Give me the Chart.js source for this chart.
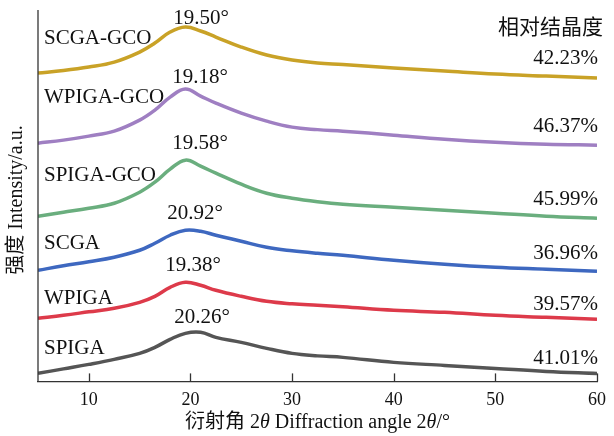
<!DOCTYPE html>
<html>
<head>
<meta charset="utf-8">
<script src="https://cdn.jsdelivr.net/npm/chart.js@4"></script>
<style>
  html, body { margin: 0; padding: 0; background: #fff; }
  #wrap { width: 614px; height: 436px; position: relative; }
</style>
</head>
<body>
<div id="wrap"><canvas id="xrdChart"></canvas></div>
<script>
// 2theta positions (deg) where the curves were read
var angles = [5, 7.5, 10, 12.5, 15, 16.5, 18, 19.5, 21, 22.5, 25, 27.5, 30, 32.5, 35, 40, 45, 50, 55, 60];

// intensity (a.u., stacked with offsets)
var scgaGco  = [308, 310.5, 314, 319, 329, 338, 349, 354, 350, 344, 334, 326, 321, 318, 316.5, 313, 310, 307, 305, 303];
var wpigaGco = [238, 241, 245, 250, 261, 271, 284, 292, 285, 278, 268, 260, 254, 251.5, 250, 246, 242, 239, 237, 236];
var spigaGco = [165, 169, 173, 178, 189, 199, 212, 221, 215, 208, 197, 188, 183, 179.5, 177, 174, 171, 168, 165, 163];
var scga     = [111, 115.5, 119.5, 124, 131, 138, 146, 151, 150, 146, 140, 134, 130.5, 128, 126, 121, 117, 114, 112, 110];
var wpiga    = [63, 66, 69.5, 73, 79, 85, 94, 99, 96, 91, 85, 80, 77.5, 76, 74.5, 71, 69, 66, 64, 62];
var spiga    = [8, 12.5, 17, 22, 28, 34, 42, 48, 49, 44, 39, 33, 28, 25.5, 24, 19, 16, 13, 10, 8];

var sampleNames = ['SCGA-GCO', 'WPIGA-GCO', 'SPIGA-GCO', 'SCGA', 'WPIGA', 'SPIGA'];
var peakLabels = ['19.50°', '19.18°', '19.58°', '20.92°', '19.38°', '20.26°'];
var crystallinity = ['42.23%', '46.37%', '45.99%', '36.96%', '39.57%', '41.01%'];
var xTicks = [10, 20, 30, 40, 50, 60];

var colors = ['#c9a227', '#9f7fc2', '#6aae7e', '#3e68c0', '#dd3a4a', '#555555'];
var series = [scgaGco, wpigaGco, spigaGco, scga, wpiga, spiga];

var serif = '"Liberation Serif", "Times New Roman", "Noto Sans CJK SC", serif';

function toPoints(vals){
    var pts = [];
    for (var i = 0; i < angles.length; i++) {
        pts.push({x: angles[i], y: vals[i]});
    }
    return pts;
}

var datasets = [];
for (var k = 0; k < series.length; k++) {
    datasets.push({
        label: sampleNames[k],
        data: toPoints(series[k]),
        borderColor: colors[k],
        borderWidth: 3.5,
        pointRadius: 0,
        tension: 0.4,
        fill: false
    });
}

// label positions in pixels (left labels, peak labels, right labels)
var nameY = [38, 97, 175, 243, 298, 348];
var peakX = [201, 200, 200, 195, 193, 202];
var peakY = [18, 77, 143, 213, 265, 317];
var pctY = [58, 126, 199, 253, 304, 358];

var decorations = {
    id: 'decorations',
    afterDraw: function(chart){
        var c = chart.ctx;
        var area = chart.chartArea;
        var xs = chart.scales.x;
        c.save();
        c.strokeStyle = '#333';
        c.lineWidth = 1.3;
        // left axis
        c.beginPath();
        c.moveTo(area.left, area.top);
        c.lineTo(area.left, area.bottom);
        c.stroke();
        // inward ticks
        for (var t = 0; t < xTicks.length; t++) {
            var px = Math.round(xs.getPixelForValue(xTicks[t])) + 0.5;
            c.beginPath();
            c.moveTo(px, area.bottom);
            c.lineTo(px, area.bottom - 8);
            c.stroke();
        }

        c.fillStyle = '#111';
        c.font = '21px ' + serif;
        c.textBaseline = 'middle';
        for (var i = 0; i < sampleNames.length; i++) {
            c.textAlign = 'left';
            c.fillText(sampleNames[i], 44, nameY[i]);
            c.textAlign = 'center';
            c.fillText(peakLabels[i], peakX[i], peakY[i]);
            c.textAlign = 'right';
            c.fillText(crystallinity[i], 598, pctY[i]);
        }
        c.textAlign = 'right';
        c.fillText('相对结晶度', 603, 28);

        // y title
        c.font = '20px ' + serif;
        c.translate(17, 200);
        c.rotate(-Math.PI / 2);
        c.textAlign = 'center';
        c.fillText('强度 Intensity/a.u.', 0, 0);
        c.restore();

        // x title with italic theta
        c.save();
        c.fillStyle = '#111';
        c.textBaseline = 'middle';
        var parts = [['衍射角 2', false], ['θ', true], [' Diffraction angle 2', false], ['θ', true], ['/°', false]];
        var total = 0;
        for (var p = 0; p < parts.length; p++) {
            c.font = (parts[p][1] ? 'italic ' : '') + '20px ' + serif;
            total += c.measureText(parts[p][0]).width;
        }
        var x0 = (area.left + area.right) / 2 - total / 2;
        for (p = 0; p < parts.length; p++) {
            c.font = (parts[p][1] ? 'italic ' : '') + '20px ' + serif;
            c.textAlign = 'left';
            c.fillText(parts[p][0], x0, 423);
            x0 += c.measureText(parts[p][0]).width;
        }
        c.restore();
    }
};

var ctx = document.getElementById('xrdChart').getContext('2d');
var xrdChart = new Chart(ctx, {
    type: 'line',
    data: { datasets: datasets },
    options: {
        responsive: true,
        maintainAspectRatio: false,
        animation: false,
        layout: { padding: { left: 38, right: 12, top: 10, bottom: 17 } },
        plugins: { legend: { display: false }, tooltip: { enabled: false } },
        scales: {
            x: {
                type: 'linear',
                min: 5,
                max: 60,
                afterBuildTicks: function(scale){
                    scale.ticks = xTicks.map(function(v){ return {value: v}; });
                },
                grid: { display: false, drawTicks: false },
                border: { display: true, color: '#333', width: 1.3 },
                ticks: { color: '#111', padding: 8, font: { family: serif, size: 18 } }
            },
            y: {
                display: false,
                min: 0,
                max: 371
            }
        }
    },
    plugins: [decorations]
});
</script>
</body>
</html>
